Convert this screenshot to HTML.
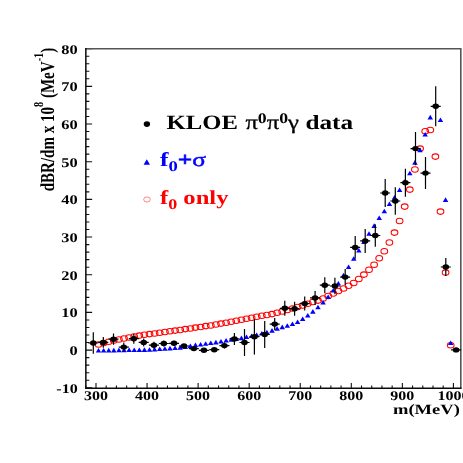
<!DOCTYPE html>
<html><head><meta charset="utf-8"><title>chart</title>
<style>html,body{margin:0;padding:0;background:#fff;width:463px;height:463px;overflow:hidden}</style></head>
<body>
<svg width="463" height="463" viewBox="0 0 463 463" style="position:absolute;left:0;top:0">
<defs><filter id="idf" x="0" y="0" width="463" height="463" filterUnits="userSpaceOnUse"><feOffset dx="0" dy="0"/></filter></defs>
<rect width="463" height="463" fill="#fff"/>
<g filter="url(#idf)" text-rendering="geometricPrecision">
<path d="M85.85 387.78h6.3M85.85 380.24h3.5M85.85 372.71h3.5M85.85 365.17h3.5M85.85 357.64h3.5M85.85 350.10h6.3M85.85 342.56h3.5M85.85 335.03h3.5M85.85 327.49h3.5M85.85 319.96h3.5M85.85 312.42h6.3M85.85 304.88h3.5M85.85 297.35h3.5M85.85 289.81h3.5M85.85 282.28h3.5M85.85 274.74h6.3M85.85 267.20h3.5M85.85 259.67h3.5M85.85 252.13h3.5M85.85 244.60h3.5M85.85 237.06h6.3M85.85 229.52h3.5M85.85 221.99h3.5M85.85 214.45h3.5M85.85 206.92h3.5M85.85 199.38h6.3M85.85 191.84h3.5M85.85 184.31h3.5M85.85 176.77h3.5M85.85 169.24h3.5M85.85 161.70h6.3M85.85 154.16h3.5M85.85 146.63h3.5M85.85 139.09h3.5M85.85 131.56h3.5M85.85 124.02h6.3M85.85 116.48h3.5M85.85 108.95h3.5M85.85 101.41h3.5M85.85 93.88h3.5M85.85 86.34h6.3M85.85 78.80h3.5M85.85 71.27h3.5M85.85 63.73h3.5M85.85 56.20h3.5M85.85 48.66h6.3M85.79 388.15v-2.6M96.00 388.15v-5.2M106.21 388.15v-2.6M116.42 388.15v-2.6M126.64 388.15v-2.6M136.85 388.15v-2.6M147.06 388.15v-5.2M157.27 388.15v-2.6M167.48 388.15v-2.6M177.70 388.15v-2.6M187.91 388.15v-2.6M198.12 388.15v-5.2M208.33 388.15v-2.6M218.54 388.15v-2.6M228.76 388.15v-2.6M238.97 388.15v-2.6M249.18 388.15v-5.2M259.39 388.15v-2.6M269.60 388.15v-2.6M279.82 388.15v-2.6M290.03 388.15v-2.6M300.24 388.15v-5.2M310.45 388.15v-2.6M320.66 388.15v-2.6M330.88 388.15v-2.6M341.09 388.15v-2.6M351.30 388.15v-5.2M361.51 388.15v-2.6M371.72 388.15v-2.6M381.94 388.15v-2.6M392.15 388.15v-2.6M402.36 388.15v-5.2M412.57 388.15v-2.6M422.78 388.15v-2.6M433.00 388.15v-2.6M443.21 388.15v-2.6M453.42 388.15v-5.2" stroke="#111" stroke-width="1.1" fill="none"/>
<path d="M85.85 48.8H460.8V388.15" fill="none" stroke="#555" stroke-width="1.6" stroke-linejoin="miter"/>
<path d="M85.85 48.0V388.15H461.6" fill="none" stroke="#0a0a0a" stroke-width="1.5" stroke-linejoin="miter"/>
<ellipse cx="98.5" cy="344.4" rx="3.35" ry="2.75" fill="none" stroke="#f00" stroke-width="1.05"/>
<ellipse cx="103.6" cy="343.0" rx="3.35" ry="2.75" fill="none" stroke="#f00" stroke-width="1.05"/>
<ellipse cx="108.7" cy="341.7" rx="3.35" ry="2.75" fill="none" stroke="#f00" stroke-width="1.05"/>
<ellipse cx="113.8" cy="340.5" rx="3.35" ry="2.75" fill="none" stroke="#f00" stroke-width="1.05"/>
<ellipse cx="118.9" cy="339.4" rx="3.35" ry="2.75" fill="none" stroke="#f00" stroke-width="1.05"/>
<ellipse cx="124.0" cy="338.4" rx="3.35" ry="2.75" fill="none" stroke="#f00" stroke-width="1.05"/>
<ellipse cx="129.1" cy="337.4" rx="3.35" ry="2.75" fill="none" stroke="#f00" stroke-width="1.05"/>
<ellipse cx="134.2" cy="336.5" rx="3.35" ry="2.75" fill="none" stroke="#f00" stroke-width="1.05"/>
<ellipse cx="139.3" cy="335.6" rx="3.35" ry="2.75" fill="none" stroke="#f00" stroke-width="1.05"/>
<ellipse cx="144.4" cy="334.8" rx="3.35" ry="2.75" fill="none" stroke="#f00" stroke-width="1.05"/>
<ellipse cx="149.5" cy="334.1" rx="3.35" ry="2.75" fill="none" stroke="#f00" stroke-width="1.05"/>
<ellipse cx="154.6" cy="333.4" rx="3.35" ry="2.75" fill="none" stroke="#f00" stroke-width="1.05"/>
<ellipse cx="159.7" cy="332.7" rx="3.35" ry="2.75" fill="none" stroke="#f00" stroke-width="1.05"/>
<ellipse cx="164.9" cy="332.0" rx="3.35" ry="2.75" fill="none" stroke="#f00" stroke-width="1.05"/>
<ellipse cx="170.0" cy="331.3" rx="3.35" ry="2.75" fill="none" stroke="#f00" stroke-width="1.05"/>
<ellipse cx="175.1" cy="330.6" rx="3.35" ry="2.75" fill="none" stroke="#f00" stroke-width="1.05"/>
<ellipse cx="180.2" cy="329.9" rx="3.35" ry="2.75" fill="none" stroke="#f00" stroke-width="1.05"/>
<ellipse cx="185.3" cy="329.1" rx="3.35" ry="2.75" fill="none" stroke="#f00" stroke-width="1.05"/>
<ellipse cx="190.4" cy="328.4" rx="3.35" ry="2.75" fill="none" stroke="#f00" stroke-width="1.05"/>
<ellipse cx="195.5" cy="327.6" rx="3.35" ry="2.75" fill="none" stroke="#f00" stroke-width="1.05"/>
<ellipse cx="200.6" cy="326.9" rx="3.35" ry="2.75" fill="none" stroke="#f00" stroke-width="1.05"/>
<ellipse cx="205.7" cy="326.1" rx="3.35" ry="2.75" fill="none" stroke="#f00" stroke-width="1.05"/>
<ellipse cx="210.8" cy="325.4" rx="3.35" ry="2.75" fill="none" stroke="#f00" stroke-width="1.05"/>
<ellipse cx="215.9" cy="324.5" rx="3.35" ry="2.75" fill="none" stroke="#f00" stroke-width="1.05"/>
<ellipse cx="221.0" cy="323.6" rx="3.35" ry="2.75" fill="none" stroke="#f00" stroke-width="1.05"/>
<ellipse cx="226.1" cy="322.7" rx="3.35" ry="2.75" fill="none" stroke="#f00" stroke-width="1.05"/>
<ellipse cx="231.2" cy="321.7" rx="3.35" ry="2.75" fill="none" stroke="#f00" stroke-width="1.05"/>
<ellipse cx="236.3" cy="320.7" rx="3.35" ry="2.75" fill="none" stroke="#f00" stroke-width="1.05"/>
<ellipse cx="241.4" cy="319.7" rx="3.35" ry="2.75" fill="none" stroke="#f00" stroke-width="1.05"/>
<ellipse cx="246.5" cy="318.7" rx="3.35" ry="2.75" fill="none" stroke="#f00" stroke-width="1.05"/>
<ellipse cx="251.6" cy="317.7" rx="3.35" ry="2.75" fill="none" stroke="#f00" stroke-width="1.05"/>
<ellipse cx="256.7" cy="316.7" rx="3.35" ry="2.75" fill="none" stroke="#f00" stroke-width="1.05"/>
<ellipse cx="261.8" cy="315.7" rx="3.35" ry="2.75" fill="none" stroke="#f00" stroke-width="1.05"/>
<ellipse cx="266.9" cy="314.9" rx="3.35" ry="2.75" fill="none" stroke="#f00" stroke-width="1.05"/>
<ellipse cx="272.0" cy="314.1" rx="3.35" ry="2.75" fill="none" stroke="#f00" stroke-width="1.05"/>
<ellipse cx="277.1" cy="312.7" rx="3.35" ry="2.75" fill="none" stroke="#f00" stroke-width="1.05"/>
<ellipse cx="282.2" cy="311.5" rx="3.35" ry="2.75" fill="none" stroke="#f00" stroke-width="1.05"/>
<ellipse cx="287.3" cy="310.0" rx="3.35" ry="2.75" fill="none" stroke="#f00" stroke-width="1.05"/>
<ellipse cx="292.5" cy="308.5" rx="3.35" ry="2.75" fill="none" stroke="#f00" stroke-width="1.05"/>
<ellipse cx="297.6" cy="307.0" rx="3.35" ry="2.75" fill="none" stroke="#f00" stroke-width="1.05"/>
<ellipse cx="302.7" cy="305.5" rx="3.35" ry="2.75" fill="none" stroke="#f00" stroke-width="1.05"/>
<ellipse cx="307.8" cy="303.8" rx="3.35" ry="2.75" fill="none" stroke="#f00" stroke-width="1.05"/>
<ellipse cx="312.9" cy="302.0" rx="3.35" ry="2.75" fill="none" stroke="#f00" stroke-width="1.05"/>
<ellipse cx="318.0" cy="300.6" rx="3.35" ry="2.75" fill="none" stroke="#f00" stroke-width="1.05"/>
<ellipse cx="323.1" cy="298.5" rx="3.35" ry="2.75" fill="none" stroke="#f00" stroke-width="1.05"/>
<ellipse cx="328.2" cy="296.0" rx="3.35" ry="2.75" fill="none" stroke="#f00" stroke-width="1.05"/>
<ellipse cx="333.3" cy="293.5" rx="3.35" ry="2.75" fill="none" stroke="#f00" stroke-width="1.05"/>
<ellipse cx="338.4" cy="291.0" rx="3.35" ry="2.75" fill="none" stroke="#f00" stroke-width="1.05"/>
<ellipse cx="343.5" cy="288.4" rx="3.35" ry="2.75" fill="none" stroke="#f00" stroke-width="1.05"/>
<ellipse cx="348.6" cy="285.8" rx="3.35" ry="2.75" fill="none" stroke="#f00" stroke-width="1.05"/>
<ellipse cx="353.7" cy="282.9" rx="3.35" ry="2.75" fill="none" stroke="#f00" stroke-width="1.05"/>
<ellipse cx="358.8" cy="278.9" rx="3.35" ry="2.75" fill="none" stroke="#f00" stroke-width="1.05"/>
<ellipse cx="363.9" cy="274.6" rx="3.35" ry="2.75" fill="none" stroke="#f00" stroke-width="1.05"/>
<ellipse cx="369.0" cy="269.8" rx="3.35" ry="2.75" fill="none" stroke="#f00" stroke-width="1.05"/>
<ellipse cx="374.1" cy="264.8" rx="3.35" ry="2.75" fill="none" stroke="#f00" stroke-width="1.05"/>
<ellipse cx="379.2" cy="258.3" rx="3.35" ry="2.75" fill="none" stroke="#f00" stroke-width="1.05"/>
<ellipse cx="384.3" cy="251.2" rx="3.35" ry="2.75" fill="none" stroke="#f00" stroke-width="1.05"/>
<ellipse cx="389.4" cy="242.5" rx="3.35" ry="2.75" fill="none" stroke="#f00" stroke-width="1.05"/>
<ellipse cx="394.5" cy="232.6" rx="3.35" ry="2.75" fill="none" stroke="#f00" stroke-width="1.05"/>
<ellipse cx="399.6" cy="221.0" rx="3.35" ry="2.75" fill="none" stroke="#f00" stroke-width="1.05"/>
<ellipse cx="404.7" cy="206.6" rx="3.35" ry="2.75" fill="none" stroke="#f00" stroke-width="1.05"/>
<ellipse cx="409.8" cy="189.6" rx="3.35" ry="2.75" fill="none" stroke="#f00" stroke-width="1.05"/>
<ellipse cx="414.9" cy="169.4" rx="3.35" ry="2.75" fill="none" stroke="#f00" stroke-width="1.05"/>
<ellipse cx="420.1" cy="148.6" rx="3.35" ry="2.75" fill="none" stroke="#f00" stroke-width="1.05"/>
<ellipse cx="425.2" cy="131.3" rx="3.35" ry="2.75" fill="none" stroke="#f00" stroke-width="1.05"/>
<ellipse cx="430.3" cy="130.0" rx="3.35" ry="2.75" fill="none" stroke="#f00" stroke-width="1.05"/>
<ellipse cx="435.4" cy="156.6" rx="3.35" ry="2.75" fill="none" stroke="#f00" stroke-width="1.05"/>
<ellipse cx="440.5" cy="211.6" rx="3.35" ry="2.75" fill="none" stroke="#f00" stroke-width="1.05"/>
<ellipse cx="445.6" cy="272.6" rx="3.35" ry="2.75" fill="none" stroke="#f00" stroke-width="1.05"/>
<ellipse cx="450.7" cy="345.2" rx="3.35" ry="2.75" fill="none" stroke="#f00" stroke-width="1.05"/>
<path d="M95.8 352.6L101.2 352.6L98.5 348.0Z" fill="#00f"/>
<path d="M100.9 352.5L106.4 352.5L103.6 347.9Z" fill="#00f"/>
<path d="M106.0 352.4L111.5 352.4L108.7 347.8Z" fill="#00f"/>
<path d="M111.1 352.4L116.6 352.4L113.8 347.8Z" fill="#00f"/>
<path d="M116.2 352.3L121.7 352.3L118.9 347.7Z" fill="#00f"/>
<path d="M121.3 352.2L126.8 352.2L124.0 347.6Z" fill="#00f"/>
<path d="M126.4 352.1L131.9 352.1L129.1 347.5Z" fill="#00f"/>
<path d="M131.5 352.0L137.0 352.0L134.2 347.4Z" fill="#00f"/>
<path d="M136.6 352.0L142.1 352.0L139.3 347.4Z" fill="#00f"/>
<path d="M141.7 351.9L147.2 351.9L144.4 347.3Z" fill="#00f"/>
<path d="M146.8 351.8L152.3 351.8L149.5 347.2Z" fill="#00f"/>
<path d="M151.9 351.4L157.4 351.4L154.6 346.9Z" fill="#00f"/>
<path d="M157.0 351.1L162.5 351.1L159.7 346.5Z" fill="#00f"/>
<path d="M162.1 350.8L167.6 350.8L164.9 346.2Z" fill="#00f"/>
<path d="M167.2 350.4L172.7 350.4L170.0 345.8Z" fill="#00f"/>
<path d="M172.3 350.1L177.8 350.1L175.1 345.5Z" fill="#00f"/>
<path d="M177.4 349.7L182.9 349.7L180.2 345.1Z" fill="#00f"/>
<path d="M182.5 348.9L188.0 348.9L185.3 344.3Z" fill="#00f"/>
<path d="M187.6 348.0L193.1 348.0L190.4 343.4Z" fill="#00f"/>
<path d="M192.7 347.2L198.2 347.2L195.5 342.6Z" fill="#00f"/>
<path d="M197.8 346.5L203.3 346.5L200.6 341.9Z" fill="#00f"/>
<path d="M202.9 345.8L208.4 345.8L205.7 341.2Z" fill="#00f"/>
<path d="M208.0 345.1L213.5 345.1L210.8 340.5Z" fill="#00f"/>
<path d="M213.1 344.4L218.6 344.4L215.9 339.8Z" fill="#00f"/>
<path d="M218.2 343.4L223.7 343.4L221.0 338.9Z" fill="#00f"/>
<path d="M223.4 342.5L228.9 342.5L226.1 337.9Z" fill="#00f"/>
<path d="M228.5 341.7L234.0 341.7L231.2 337.1Z" fill="#00f"/>
<path d="M233.6 341.0L239.1 341.0L236.3 336.4Z" fill="#00f"/>
<path d="M238.7 340.2L244.2 340.2L241.4 335.6Z" fill="#00f"/>
<path d="M243.8 339.1L249.3 339.1L246.5 334.5Z" fill="#00f"/>
<path d="M248.9 338.1L254.4 338.1L251.6 333.5Z" fill="#00f"/>
<path d="M254.0 337.0L259.5 337.0L256.7 332.4Z" fill="#00f"/>
<path d="M259.1 335.5L264.6 335.5L261.8 330.9Z" fill="#00f"/>
<path d="M264.2 334.4L269.7 334.4L266.9 329.8Z" fill="#00f"/>
<path d="M269.3 332.7L274.8 332.7L272.0 328.1Z" fill="#00f"/>
<path d="M274.4 330.8L279.9 330.8L277.1 326.2Z" fill="#00f"/>
<path d="M279.5 329.2L285.0 329.2L282.2 324.6Z" fill="#00f"/>
<path d="M284.6 327.8L290.1 327.8L287.3 323.2Z" fill="#00f"/>
<path d="M289.7 326.1L295.2 326.1L292.5 321.5Z" fill="#00f"/>
<path d="M294.8 324.0L300.3 324.0L297.6 319.4Z" fill="#00f"/>
<path d="M299.9 321.1L305.4 321.1L302.7 316.5Z" fill="#00f"/>
<path d="M305.0 317.5L310.5 317.5L307.8 312.9Z" fill="#00f"/>
<path d="M310.1 313.7L315.6 313.7L312.9 309.1Z" fill="#00f"/>
<path d="M315.2 309.3L320.7 309.3L318.0 304.7Z" fill="#00f"/>
<path d="M320.3 304.5L325.8 304.5L323.1 299.9Z" fill="#00f"/>
<path d="M325.4 299.0L330.9 299.0L328.2 294.4Z" fill="#00f"/>
<path d="M330.5 292.5L336.0 292.5L333.3 287.9Z" fill="#00f"/>
<path d="M335.6 285.5L341.1 285.5L338.4 280.9Z" fill="#00f"/>
<path d="M340.7 277.3L346.2 277.3L343.5 272.7Z" fill="#00f"/>
<path d="M345.8 269.0L351.3 269.0L348.6 264.4Z" fill="#00f"/>
<path d="M351.0 260.8L356.5 260.8L353.7 256.2Z" fill="#00f"/>
<path d="M356.1 252.5L361.6 252.5L358.8 247.9Z" fill="#00f"/>
<path d="M361.2 244.0L366.7 244.0L363.9 239.4Z" fill="#00f"/>
<path d="M366.3 235.8L371.8 235.8L369.0 231.2Z" fill="#00f"/>
<path d="M371.4 227.9L376.9 227.9L374.1 223.3Z" fill="#00f"/>
<path d="M376.5 220.1L382.0 220.1L379.2 215.5Z" fill="#00f"/>
<path d="M381.6 213.3L387.1 213.3L384.3 208.7Z" fill="#00f"/>
<path d="M386.7 206.1L392.2 206.1L389.4 201.5Z" fill="#00f"/>
<path d="M391.8 199.5L397.3 199.5L394.5 194.9Z" fill="#00f"/>
<path d="M396.9 192.1L402.4 192.1L399.6 187.5Z" fill="#00f"/>
<path d="M402.0 183.8L407.5 183.8L404.7 179.2Z" fill="#00f"/>
<path d="M407.1 175.3L412.6 175.3L409.8 170.7Z" fill="#00f"/>
<path d="M412.2 164.7L417.7 164.7L414.9 160.1Z" fill="#00f"/>
<path d="M417.3 152.2L422.8 152.2L420.1 147.6Z" fill="#00f"/>
<path d="M422.4 136.6L427.9 136.6L425.2 132.0Z" fill="#00f"/>
<path d="M427.5 119.4L433.0 119.4L430.3 114.8Z" fill="#00f"/>
<path d="M437.7 122.0L443.2 122.0L440.5 117.4Z" fill="#00f"/>
<path d="M442.8 201.9L448.3 201.9L445.6 197.3Z" fill="#00f"/>
<path d="M447.9 345.1L453.4 345.1L450.7 340.5Z" fill="#00f"/>
<path d="M93.3 332.2V353.8M88.3 343.0H98.3M103.3 337.0V347.8M98.3 342.4H108.3M113.5 333.6V344.8M108.5 339.2H118.5M123.8 342.6V351.6M118.8 347.1H128.8M133.8 333.7V343.7M128.8 338.7H138.8M143.7 338.4V346.4M138.7 342.4H148.7M153.9 341.7V348.7M148.9 345.2H158.9M163.8 340.5V346.5M158.8 343.5H168.8M174.0 340.8V345.8M169.0 343.3H179.0M184.0 344.0V348.0M179.0 346.0H189.0M193.8 346.6V350.6M188.8 348.6H198.8M203.9 348.3V352.3M198.9 350.3H208.9M214.3 347.7V351.7M209.3 349.7H219.3M224.4 342.6V348.6M219.4 345.6H229.4M234.4 332.9V344.9M229.4 338.9H239.4M244.5 329.0V356.0M239.5 342.5H249.5M254.4 319.0V354.4M249.4 336.7H259.4M264.7 320.9V347.9M259.7 334.4H269.7M274.7 318.1V330.1M269.7 324.1H279.7M284.8 300.8V315.8M279.8 308.3H289.8M294.6 301.7V315.7M289.6 308.7H299.6M304.7 296.6V310.6M299.7 303.6H309.7M315.1 290.9V304.9M310.1 297.9H320.1M324.8 277.2V293.2M319.8 285.2H329.8M334.9 277.7V294.3M329.9 286.0H339.9M345.2 269.1V285.1M340.2 277.1H350.2M355.2 236.1V258.7M350.2 247.4H360.2M365.2 228.9V252.9M360.2 240.9H370.2M375.3 224.2V246.8M370.3 235.5H380.3M385.2 179.0V207.0M380.2 193.0H390.2M395.3 187.3V214.7M390.3 201.0H400.3M405.4 168.7V196.7M400.4 182.7H410.4M415.5 131.9V165.3M410.5 148.6H420.5M425.5 157.1V189.1M420.5 173.1H430.5M435.7 86.3V126.3M430.7 106.3H440.7M445.8 258.0V276.0M440.8 267.0H450.8M456.1 348.9V350.9M451.1 349.9H461.1" stroke="#000" stroke-width="1.2" fill="none"/>
<ellipse cx="93.3" cy="343.0" rx="3.3" ry="2.7" fill="#000"/>
<ellipse cx="103.3" cy="342.4" rx="3.3" ry="2.7" fill="#000"/>
<ellipse cx="113.5" cy="339.2" rx="3.3" ry="2.7" fill="#000"/>
<ellipse cx="123.8" cy="347.1" rx="3.3" ry="2.7" fill="#000"/>
<ellipse cx="133.8" cy="338.7" rx="3.3" ry="2.7" fill="#000"/>
<ellipse cx="143.7" cy="342.4" rx="3.3" ry="2.7" fill="#000"/>
<ellipse cx="153.9" cy="345.2" rx="3.3" ry="2.7" fill="#000"/>
<ellipse cx="163.8" cy="343.5" rx="3.3" ry="2.7" fill="#000"/>
<ellipse cx="174.0" cy="343.3" rx="3.3" ry="2.7" fill="#000"/>
<ellipse cx="184.0" cy="346.0" rx="3.3" ry="2.7" fill="#000"/>
<ellipse cx="193.8" cy="348.6" rx="3.3" ry="2.7" fill="#000"/>
<ellipse cx="203.9" cy="350.3" rx="3.3" ry="2.7" fill="#000"/>
<ellipse cx="214.3" cy="349.7" rx="3.3" ry="2.7" fill="#000"/>
<ellipse cx="224.4" cy="345.6" rx="3.3" ry="2.7" fill="#000"/>
<ellipse cx="234.4" cy="338.9" rx="3.3" ry="2.7" fill="#000"/>
<ellipse cx="244.5" cy="342.5" rx="3.3" ry="2.7" fill="#000"/>
<ellipse cx="254.4" cy="336.7" rx="3.3" ry="2.7" fill="#000"/>
<ellipse cx="264.7" cy="334.4" rx="3.3" ry="2.7" fill="#000"/>
<ellipse cx="274.7" cy="324.1" rx="3.3" ry="2.7" fill="#000"/>
<ellipse cx="284.8" cy="308.3" rx="3.3" ry="2.7" fill="#000"/>
<ellipse cx="294.6" cy="308.7" rx="3.3" ry="2.7" fill="#000"/>
<ellipse cx="304.7" cy="303.6" rx="3.3" ry="2.7" fill="#000"/>
<ellipse cx="315.1" cy="297.9" rx="3.3" ry="2.7" fill="#000"/>
<ellipse cx="324.8" cy="285.2" rx="3.3" ry="2.7" fill="#000"/>
<ellipse cx="334.9" cy="286.0" rx="3.3" ry="2.7" fill="#000"/>
<ellipse cx="345.2" cy="277.1" rx="3.3" ry="2.7" fill="#000"/>
<ellipse cx="355.2" cy="247.4" rx="3.3" ry="2.7" fill="#000"/>
<ellipse cx="365.2" cy="240.9" rx="3.3" ry="2.7" fill="#000"/>
<ellipse cx="375.3" cy="235.5" rx="3.3" ry="2.7" fill="#000"/>
<ellipse cx="385.2" cy="193.0" rx="3.3" ry="2.7" fill="#000"/>
<ellipse cx="395.3" cy="201.0" rx="3.3" ry="2.7" fill="#000"/>
<ellipse cx="405.4" cy="182.7" rx="3.3" ry="2.7" fill="#000"/>
<ellipse cx="415.5" cy="148.6" rx="3.3" ry="2.7" fill="#000"/>
<ellipse cx="425.5" cy="173.1" rx="3.3" ry="2.7" fill="#000"/>
<ellipse cx="435.7" cy="106.3" rx="3.3" ry="2.7" fill="#000"/>
<ellipse cx="445.8" cy="267.0" rx="3.3" ry="2.7" fill="#000"/>
<ellipse cx="456.1" cy="349.9" rx="3.3" ry="2.7" fill="#000"/>
<ellipse cx="146.9" cy="124.1" rx="3.2" ry="2.8" fill="#000"/>
<path d="M143.6 164.8L150.0 164.8L146.8 159.2Z" fill="#00f"/>
<ellipse cx="147.0" cy="199.5" rx="3.3" ry="2.6" fill="none" stroke="#f55" stroke-width="0.7"/>
<text x="56.300000000000004" y="392.68" font-family="Liberation Serif, serif" font-weight="bold" font-size="13.3" text-anchor="start" fill="#000" textLength="21.4" lengthAdjust="spacingAndGlyphs">-10</text>
<text x="69.5" y="355.0" font-family="Liberation Serif, serif" font-weight="bold" font-size="13.3" text-anchor="start" fill="#000" textLength="8.2" lengthAdjust="spacingAndGlyphs">0</text>
<text x="61.300000000000004" y="317.32" font-family="Liberation Serif, serif" font-weight="bold" font-size="13.3" text-anchor="start" fill="#000" textLength="16.4" lengthAdjust="spacingAndGlyphs">10</text>
<text x="61.300000000000004" y="279.64" font-family="Liberation Serif, serif" font-weight="bold" font-size="13.3" text-anchor="start" fill="#000" textLength="16.4" lengthAdjust="spacingAndGlyphs">20</text>
<text x="61.300000000000004" y="241.96000000000004" font-family="Liberation Serif, serif" font-weight="bold" font-size="13.3" text-anchor="start" fill="#000" textLength="16.4" lengthAdjust="spacingAndGlyphs">30</text>
<text x="61.300000000000004" y="204.28000000000003" font-family="Liberation Serif, serif" font-weight="bold" font-size="13.3" text-anchor="start" fill="#000" textLength="16.4" lengthAdjust="spacingAndGlyphs">40</text>
<text x="61.300000000000004" y="166.60000000000005" font-family="Liberation Serif, serif" font-weight="bold" font-size="13.3" text-anchor="start" fill="#000" textLength="16.4" lengthAdjust="spacingAndGlyphs">50</text>
<text x="61.300000000000004" y="128.92000000000004" font-family="Liberation Serif, serif" font-weight="bold" font-size="13.3" text-anchor="start" fill="#000" textLength="16.4" lengthAdjust="spacingAndGlyphs">60</text>
<text x="61.300000000000004" y="91.24000000000004" font-family="Liberation Serif, serif" font-weight="bold" font-size="13.3" text-anchor="start" fill="#000" textLength="16.4" lengthAdjust="spacingAndGlyphs">70</text>
<text x="61.300000000000004" y="53.560000000000024" font-family="Liberation Serif, serif" font-weight="bold" font-size="13.3" text-anchor="start" fill="#000" textLength="16.4" lengthAdjust="spacingAndGlyphs">80</text>
<text x="84.0" y="400.1" font-family="Liberation Serif, serif" font-weight="bold" font-size="13.3" text-anchor="start" fill="#000" textLength="24.0" lengthAdjust="spacingAndGlyphs">300</text>
<text x="135.06" y="400.1" font-family="Liberation Serif, serif" font-weight="bold" font-size="13.3" text-anchor="start" fill="#000" textLength="24.0" lengthAdjust="spacingAndGlyphs">400</text>
<text x="186.12" y="400.1" font-family="Liberation Serif, serif" font-weight="bold" font-size="13.3" text-anchor="start" fill="#000" textLength="24.0" lengthAdjust="spacingAndGlyphs">500</text>
<text x="237.18" y="400.1" font-family="Liberation Serif, serif" font-weight="bold" font-size="13.3" text-anchor="start" fill="#000" textLength="24.0" lengthAdjust="spacingAndGlyphs">600</text>
<text x="288.24" y="400.1" font-family="Liberation Serif, serif" font-weight="bold" font-size="13.3" text-anchor="start" fill="#000" textLength="24.0" lengthAdjust="spacingAndGlyphs">700</text>
<text x="339.30000000000007" y="400.1" font-family="Liberation Serif, serif" font-weight="bold" font-size="13.3" text-anchor="start" fill="#000" textLength="24.0" lengthAdjust="spacingAndGlyphs">800</text>
<text x="390.36" y="400.1" font-family="Liberation Serif, serif" font-weight="bold" font-size="13.3" text-anchor="start" fill="#000" textLength="24.0" lengthAdjust="spacingAndGlyphs">900</text>
<text x="437.42" y="400.1" font-family="Liberation Serif, serif" font-weight="bold" font-size="13.3" text-anchor="start" fill="#000" textLength="32.0" lengthAdjust="spacingAndGlyphs">1000</text>
<text x="393.0" y="413.7" font-family="Liberation Serif, serif" font-weight="bold" font-size="14.3" text-anchor="start" fill="#000" textLength="66.9" lengthAdjust="spacingAndGlyphs">m(MeV)</text>
<text x="166.6" y="129.0" font-family="Liberation Serif, serif" font-weight="bold" font-size="20.4" text-anchor="start" fill="#000" textLength="71.3" lengthAdjust="spacingAndGlyphs">KLOE</text>
<text x="245.4" y="129.0" font-family="Liberation Serif, serif" font-weight="bold" font-size="20.2" textLength="53.6" lengthAdjust="spacingAndGlyphs"><tspan font-weight="normal" stroke="#000" stroke-width="0.3">π</tspan><tspan font-size="14.5" dy="-6.3">0</tspan><tspan dy="6.3" font-weight="normal" stroke="#000" stroke-width="0.3">π</tspan><tspan font-size="14.5" dy="-6.3">0</tspan><tspan dy="6.3" font-weight="normal" stroke="#000" stroke-width="0.3">γ</tspan></text>
<text x="305.4" y="129.0" font-family="Liberation Serif, serif" font-weight="bold" font-size="20.2" text-anchor="start" fill="#000" textLength="47.6" lengthAdjust="spacingAndGlyphs">data</text>
<text x="160.0" y="166.3" font-family="Liberation Serif, serif" font-weight="bold" font-size="19.8" fill="#00f" textLength="46" lengthAdjust="spacingAndGlyphs">f<tspan font-size="14.5" dy="4.7">0</tspan><tspan dy="-4.7" stroke="#00f" stroke-width="0.5">+</tspan><tspan font-weight="normal" stroke="#00f" stroke-width="0.45">σ</tspan></text>
<text x="160.0" y="204.4" font-family="Liberation Serif, serif" font-weight="bold" font-size="19.8" fill="#f00" textLength="68.5" lengthAdjust="spacingAndGlyphs">f<tspan font-size="14.5" dy="4.7">0</tspan><tspan dy="-4.7"> only</tspan></text>
<g transform="translate(54.2,191.3) rotate(-90)"><text x="0" y="0" font-family="Liberation Serif, serif" font-weight="bold" font-size="19.8" textLength="143.5" lengthAdjust="spacingAndGlyphs">dBR/dm x 10<tspan font-size="13.5" dy="-11.3">8</tspan><tspan dy="11.3"> (MeV</tspan><tspan font-size="13.5" dy="-11.3">-1</tspan><tspan dy="11.3">)</tspan></text></g>
</g></svg>
</body></html>
